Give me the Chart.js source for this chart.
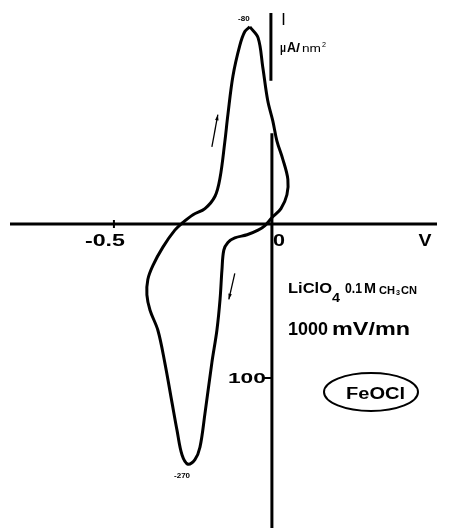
<!DOCTYPE html>
<html>
<head>
<meta charset="utf-8">
<title>FeOCl voltammogram</title>
<script src="https://cdn.jsdelivr.net/npm/chart.js@4/dist/chart.umd.min.js"></script>
<style>
  html, body { margin: 0; padding: 0; background: #fff; }
</style>
</head>
<body>
<canvas id="cv" width="459" height="528"></canvas>
<script>
// ── Data (V vs ref, current in µA/nm², cathodic drawn downward) ──
var potential = [
  -0.067, -0.041, -0.026, -0.010, 0.006, 0.019, 0.038, 0.054, 0.051, 0.032,
   0.003, -0.019, -0.041, -0.076, -0.115, -0.137, -0.150, -0.156, -0.162, -0.172,
  -0.188, -0.210, -0.226, -0.242, -0.264, -0.283, -0.299, -0.315, -0.338, -0.360,
  -0.385, -0.395, -0.392, -0.376, -0.344, -0.306, -0.280, -0.248, -0.210, -0.178,
  -0.162, -0.147, -0.137, -0.121, -0.099, -0.083, -0.067
];
var current = [
  -128, -121, -102, -80, -67, -54, -42, -29, -19, -10,
    -4, 1, 4, 7, 9, 12, 17, 30, 49, 69,
    90, 123, 145, 153, 156, 150, 134, 116, 90, 69,
    56, 46, 36, 27, 15, 4, -1, -6, -10, -18,
   -30, -53, -71, -96, -116, -125, -128
];
var xTickValues = [-0.5, 0];
var xTickLabels = ["-0.5", "0"];
var yTickValues = [100];
var yTickLabels = ["100"];
var peakLabels = ["-80", "-270"];

(function () {
  "use strict";

  var FONT = "'Liberation Sans', Arial, sans-serif";

  function fitText(ctx, str, left, base, font, width) {
    ctx.save();
    ctx.font = font;
    var w = ctx.measureText(str).width;
    ctx.translate(left, base);
    if (width) ctx.scale(width / w, 1);
    ctx.textAlign = "left";
    ctx.textBaseline = "alphabetic";
    ctx.fillText(str, 0, 0);
    ctx.restore();
  }

  function line(ctx, x1, y1, x2, y2, w) {
    ctx.beginPath();
    ctx.lineWidth = w;
    ctx.moveTo(x1, y1);
    ctx.lineTo(x2, y2);
    ctx.stroke();
  }

  // ── Axes drawn from the scales ─────────────────────────────────────
  var axesPlugin = {
    id: "cvAxes",
    beforeDatasetsDraw: function (chart) {
      var ctx = chart.ctx, xs = chart.scales.x, ys = chart.scales.y;
      var x0 = xs.getPixelForValue(0), y0 = ys.getPixelForValue(0);
      ctx.save();
      ctx.strokeStyle = "#000";
      ctx.lineCap = "butt";
      // horizontal axis
      line(ctx, xs.left, y0, xs.right, y0, 3);
      // vertical axis, in two pieces like the original
      line(ctx, x0, ys.getPixelForValue(-137), x0, ys.getPixelForValue(-93), 3);
      line(ctx, x0 + 1, ys.getPixelForValue(-59), x0 + 1, ys.bottom, 3);
      // ticks
      xTickValues.forEach(function (v) {
        if (v === 0) return;
        var px = xs.getPixelForValue(v);
        line(ctx, px, y0 - 4, px, y0 + 4, 2);
      });
      yTickValues.forEach(function (v) {
        var py = ys.getPixelForValue(v);
        line(ctx, x0 - 8, py, x0 + 1, py, 2);
      });
      ctx.restore();
    },
    afterDatasetsDraw: function (chart) {
      var ctx = chart.ctx, xs = chart.scales.x, ys = chart.scales.y;
      var x0 = xs.getPixelForValue(0), y0 = ys.getPixelForValue(0);
      ctx.save();
      ctx.fillStyle = "#000";
      ctx.strokeStyle = "#000";

      // tick labels
      fitText(ctx, xTickLabels[0], xs.getPixelForValue(-0.5) - 29, y0 + 22, "bold 16px " + FONT, 40);
      fitText(ctx, xTickLabels[1], x0 + 2, y0 + 22, "bold 16px " + FONT, 12);
      fitText(ctx, yTickLabels[0], x0 - 43, ys.getPixelForValue(100) + 5, "bold 15px " + FONT, 38);
      fitText(ctx, "V", xs.getPixelForValue(0.47), y0 + 22, "bold 16px " + FONT, 13);

      // axis unit
      fitText(ctx, "I", x0 + 11, ys.getPixelForValue(-129), "bold 16px " + FONT, 3);
      fitText(ctx, "\u03bc", x0 + 9, ys.getPixelForValue(-112), "bold 12px " + FONT, 6);
      fitText(ctx, "A", x0 + 16, ys.getPixelForValue(-112), "bold 14px " + FONT, 9);
      fitText(ctx, "/", x0 + 25, ys.getPixelForValue(-112), "bold 12px " + FONT, 4);
      fitText(ctx, "nm", x0 + 31, ys.getPixelForValue(-112), "10px " + FONT, 19);
      fitText(ctx, "2", x0 + 51, ys.getPixelForValue(-115), "7px " + FONT, 4);

      // peak potentials (mV)
      var iTop = 0, iBot = 0;
      current.forEach(function (c, i) {
        if (c < current[iTop]) iTop = i;
        if (c > current[iBot]) iBot = i;
      });
      ctx.font = "bold 8px " + FONT;
      ctx.textAlign = "center";
      ctx.fillText(peakLabels[0], xs.getPixelForValue(potential[iTop]) - 6, ys.getPixelForValue(current[iTop]) - 6);
      ctx.fillText(peakLabels[1], xs.getPixelForValue(potential[iBot]) - 6, ys.getPixelForValue(current[iBot]) + 14);

      // experimental conditions
      fitText(ctx, "LiClO", 288, 293, "bold 15px " + FONT, 44);
      fitText(ctx, "4", 332, 302, "bold 13px " + FONT, 8);
      fitText(ctx, "0.1", 345, 293, "bold 14px " + FONT, 17);
      fitText(ctx, "M", 364, 293, "bold 14px " + FONT, 12);
      fitText(ctx, "CH", 379, 294, "bold 10px " + FONT, 16);
      fitText(ctx, "3", 396, 295, "bold 7px " + FONT, 4);
      fitText(ctx, "CN", 401, 294, "bold 10px " + FONT, 16);
      fitText(ctx, "1000", 288, 335, "bold 19px " + FONT, 40);
      fitText(ctx, "mV/mn", 332, 335, "bold 19px " + FONT, 78);

      // sample name in an ellipse
      ctx.beginPath();
      ctx.lineWidth = 2;
      ctx.ellipse(371, 392, 47, 19, 0, 0, Math.PI * 2);
      ctx.stroke();
      fitText(ctx, "FeOCl", 346, 399, "bold 16px " + FONT, 59);

      // scan-direction arrows
      function arrow(v1, c1, v2, c2) {
        var ax = xs.getPixelForValue(v1), ay = ys.getPixelForValue(c1);
        var bx = xs.getPixelForValue(v2), by = ys.getPixelForValue(c2);
        var ang = Math.atan2(by - ay, bx - ax);
        line(ctx, ax, ay, bx, by, 1.3);
        ctx.beginPath();
        ctx.moveTo(bx, by);
        ctx.lineTo(bx - 6 * Math.cos(ang - 0.3), by - 6 * Math.sin(ang - 0.3));
        ctx.lineTo(bx - 6 * Math.cos(ang + 0.3), by - 6 * Math.sin(ang + 0.3));
        ctx.closePath();
        ctx.fill();
      }
      arrow(-0.188, -50, -0.169, -71);
      arrow(-0.115, 32, -0.134, 49);

      ctx.restore();
    }
  };

  // ── Chart ──────────────────────────────────────────────────────────
  function initChart() {
    var points = potential.map(function (v, i) { return { x: v, y: current[i] }; });
    new Chart(document.getElementById("cv").getContext("2d"), {
      type: "scatter",
      data: {
        datasets: [{
          data: points,
          showLine: true,
          borderColor: "#000",
          borderWidth: 3,
          pointRadius: 0,
          tension: 0.35,
          fill: false
        }]
      },
      options: {
        responsive: false,
        animation: false,
        devicePixelRatio: 1,
        layout: { padding: { left: 10, right: 22, top: 13, bottom: 0 } },
        plugins: { legend: { display: false }, tooltip: { enabled: false } },
        scales: {
          x: { type: "linear", min: -0.831, max: 0.529, display: false },
          y: { type: "linear", min: -137, max: 197.4, reverse: true, display: false }
        }
      },
      plugins: [axesPlugin]
    });
  }

  initChart();
})();
</script>
</body>
</html>
